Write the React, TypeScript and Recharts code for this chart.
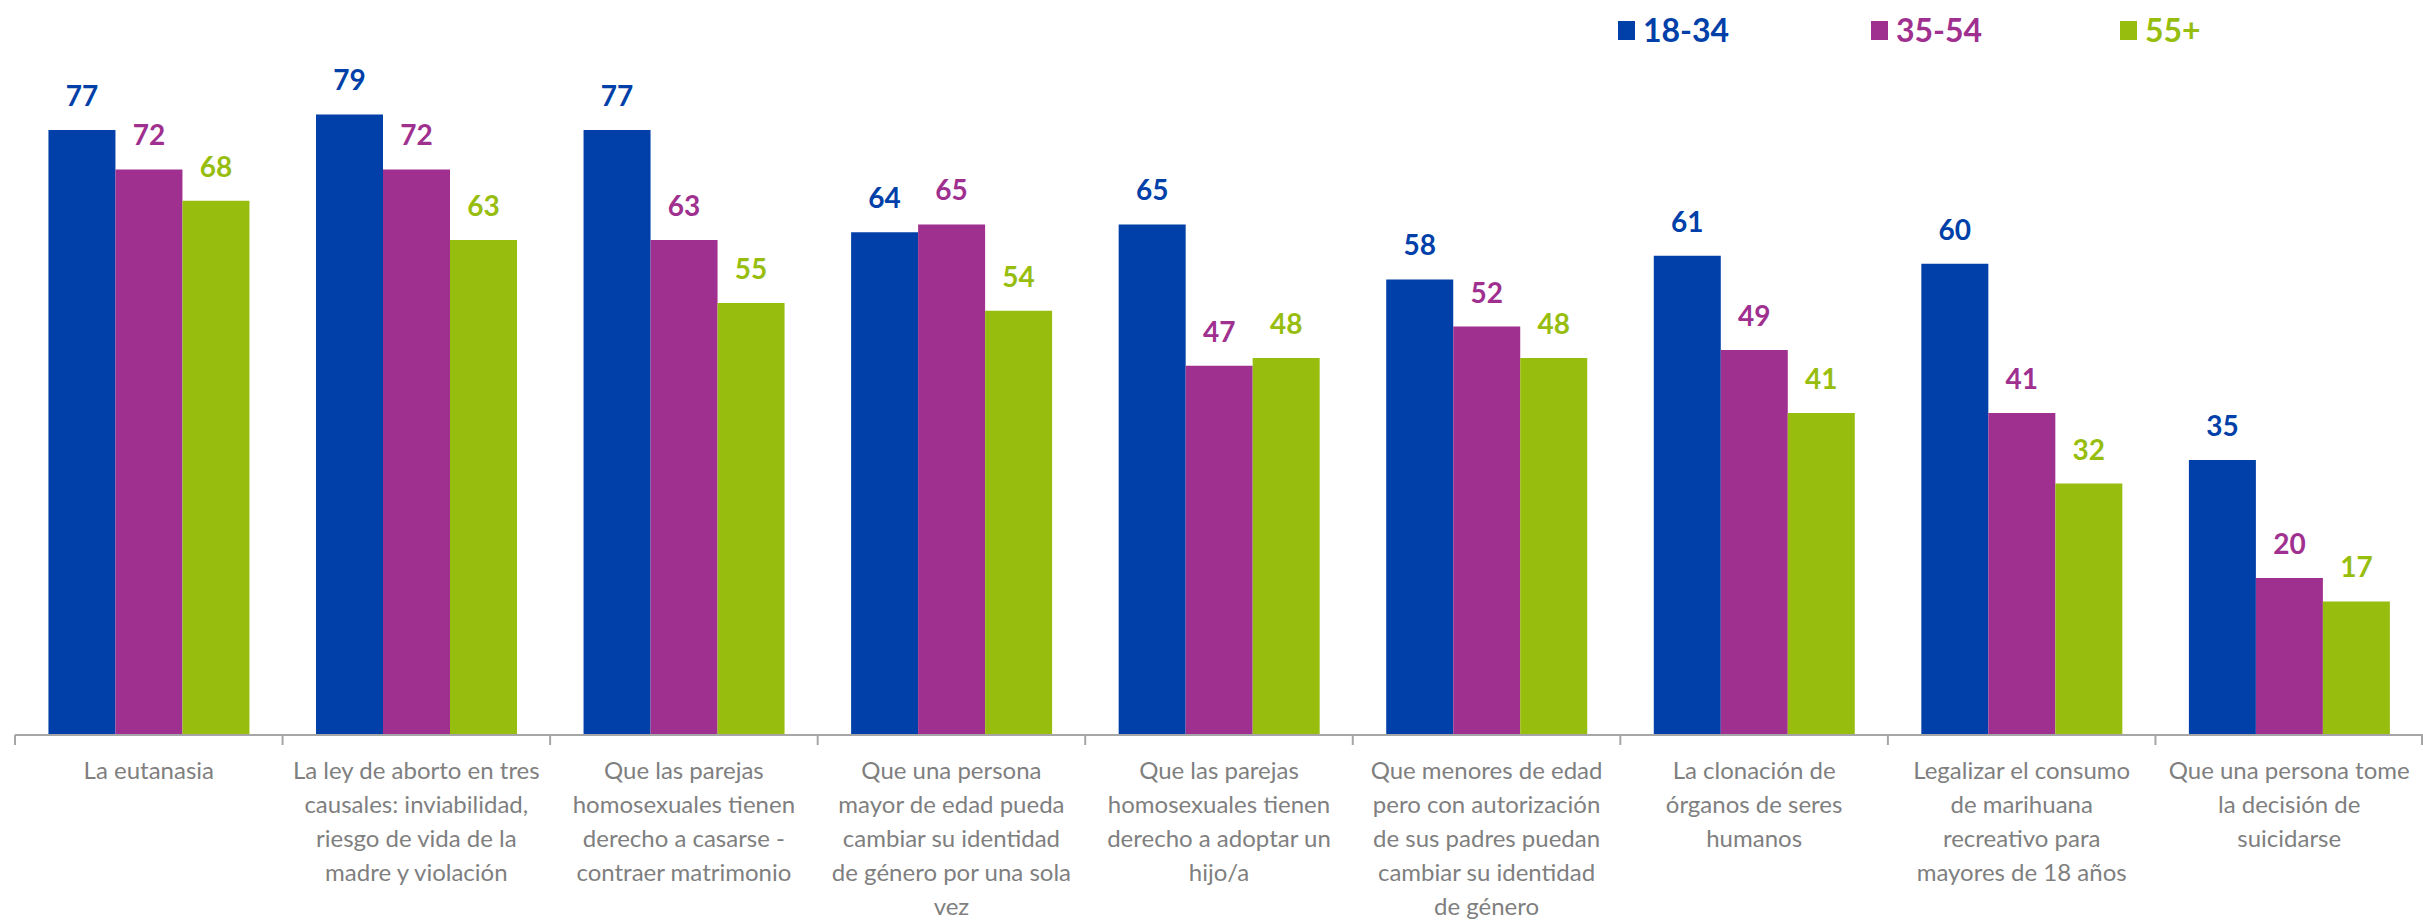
import React from "react";
import { BarChart, Bar, XAxis, YAxis, Legend, LabelList } from "recharts";

const categories = [
  "La eutanasia",
  "La ley de aborto en tres\ncausales: inviabilidad,\nriesgo de vida de la\nmadre y violación",
  "Que las parejas\nhomosexuales tienen\nderecho a casarse -\ncontraer matrimonio",
  "Que una persona\nmayor de edad pueda\ncambiar su identidad\nde género por una sola\nvez",
  "Que las parejas\nhomosexuales tienen\nderecho a adoptar un\nhijo/a",
  "Que menores de edad\npero con autorización\nde sus padres puedan\ncambiar su identidad\nde género",
  "La clonación de\nórganos de seres\nhumanos",
  "Legalizar el consumo\nde marihuana\nrecreativo para\nmayores de 18 años",
  "Que una persona tome\nla decisión de\nsuicidarse",
];
const seriesNames = ["18-34", "35-54", "55+"];
const values1834 = [77, 79, 77, 64, 65, 58, 61, 60, 35];
const values3554 = [72, 72, 63, 65, 47, 52, 49, 41, 20];
const values55 = [68, 63, 55, 54, 48, 48, 41, 32, 17];

const COLORS = ["#0040A8", "#A0308F", "#97BD0F"];
const FONT = "Lato, 'Open Sans', sans-serif";
const W = 2423;
const H = 921;
const M = { top: 28, right: 0, bottom: 0, left: 15 };
const BAND = (W - M.left - M.right) / categories.length;

const data = categories.map((c, i) => ({
  name: c,
  a: values1834[i],
  b: values3554[i],
  c: values55[i],
}));

const Tick = (props: any) => {
  const { x, y, payload, index } = props;
  const lines = String(payload.value).split("\n");
  return (
    <g>
      <line x1={x - BAND / 2} x2={x - BAND / 2} y1={y} y2={y + 10} stroke="#A6A6A6" strokeWidth={2} />
      {index === categories.length - 1 && (
        <line x1={x + BAND / 2 - 1} x2={x + BAND / 2 - 1} y1={y} y2={y + 10} stroke="#A6A6A6" strokeWidth={2} />
      )}
      <text x={x} y={y + 44} textAnchor="middle" fill="#7F7F7F" fontFamily={FONT} fontSize={24}>
        {lines.map((l, i) => (
          <tspan key={i} x={x} dy={i === 0 ? 0 : 34}>
            {l}
          </tspan>
        ))}
      </text>
    </g>
  );
};

const makeLabel = (color: string) => (props: any) => {
  const { x, y, width, value } = props;
  return (
    <text
      x={x + width / 2}
      y={y - 24}
      textAnchor="middle"
      fill={color}
      fontFamily={FONT}
      fontWeight={700}
      fontSize={28}
    >
      {value}
    </text>
  );
};

const LegendContent = () => {
  const widths = [253, 249, 200];
  return (
    <div style={{ display: "flex", alignItems: "center" }}>
      {seriesNames.map((n, i) => (
        <div key={n} style={{ display: "flex", alignItems: "center", width: widths[i] }}>
          <div style={{ width: 17, height: 19, background: COLORS[i], marginRight: 8 }} />
          <span style={{ color: COLORS[i], fontFamily: FONT, fontWeight: 700, fontSize: 32, lineHeight: "40px" }}>{n}</span>
        </div>
      ))}
    </div>
  );
};

export default function App() {
  return (
    <div style={{ position: "absolute", left: 0, top: 0, width: W, height: H, background: "#fff" }}>
      <BarChart width={W} height={H} data={data} margin={M} barCategoryGap="12.5%" barGap={0}>
        <YAxis hide domain={[0, 90]} />
        <XAxis
          dataKey="name"
          height={186}
          interval={0}
          tickLine={false}
          tickSize={0}
          tickMargin={0}
          axisLine={{ stroke: "#A6A6A6", strokeWidth: 2 }}
          tick={<Tick />}
        />
        <Legend
          verticalAlign="top"
          align="left"
          content={<LegendContent />}
          wrapperStyle={{ position: "absolute", top: 10, left: 1618, width: 800, height: 0, overflow: "visible" }}
        />
        <Bar dataKey="a" name={seriesNames[0]} fill={COLORS[0]} isAnimationActive={false}>
          <LabelList dataKey="a" content={makeLabel(COLORS[0])} />
        </Bar>
        <Bar dataKey="b" name={seriesNames[1]} fill={COLORS[1]} isAnimationActive={false}>
          <LabelList dataKey="b" content={makeLabel(COLORS[1])} />
        </Bar>
        <Bar dataKey="c" name={seriesNames[2]} fill={COLORS[2]} isAnimationActive={false}>
          <LabelList dataKey="c" content={makeLabel(COLORS[2])} />
        </Bar>
      </BarChart>
    </div>
  );
}
